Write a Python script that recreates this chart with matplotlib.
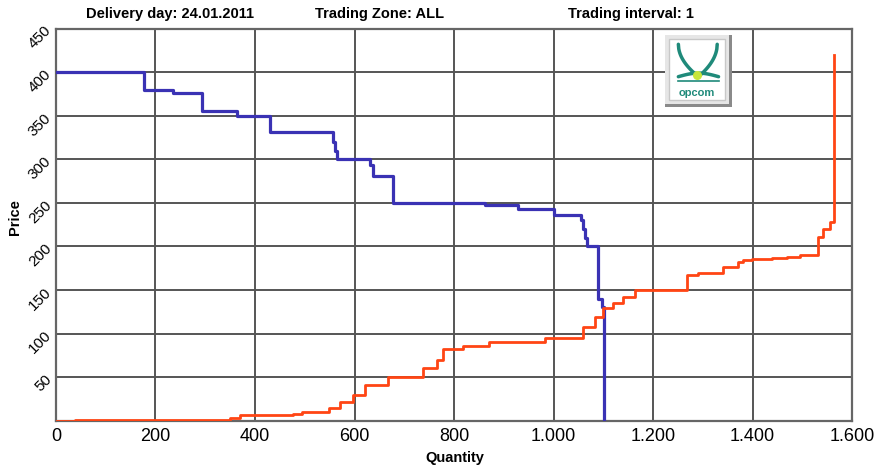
import matplotlib
matplotlib.use("Agg")
import matplotlib.pyplot as plt
import numpy as np
from matplotlib.patches import Rectangle

plt.rcParams['font.family'] = ['Liberation Sans', 'DejaVu Sans']

# ---- data ----
demand_q = [0, 176, 236, 293, 364, 430, 557, 561, 565, 632, 637, 677, 862, 929, 1000,
            1056, 1060, 1064, 1067, 1089, 1097, 1101]
demand_p = [400, 380, 376, 355, 350, 331, 320, 310, 300, 294, 281, 250, 247, 243, 236,
            230, 220, 210, 201, 140, 130, 0]

supply_q = [0, 38, 350, 370, 477, 494, 548, 571, 596, 621, 668, 737, 766, 778, 819, 871,
            983, 1060, 1083, 1100, 1119, 1140, 1164, 1268, 1291, 1341, 1370, 1380, 1398,
            1440, 1470, 1495, 1532, 1542, 1556, 1564]
supply_p = [0, 1, 3, 6, 8, 10, 14, 22, 30, 41, 50, 61, 70, 82, 86, 90,
            95, 108, 119, 129, 135, 142, 150, 167, 170, 176, 182, 184, 186,
            187, 188, 190, 211, 220, 228, 420]

x_ticks = [0, 200, 400, 600, 800, 1000, 1200, 1400, 1600]
x_tick_labels = ['0', '200', '400', '600', '800', '1.000', '1.200', '1.400', '1.600']
y_ticks = [50, 100, 150, 200, 250, 300, 350, 400, 450]
y_tick_labels = ['50', '100', '150', '200', '250', '300', '350', '400', '450']

titles = ['Delivery day: 24.01.2011', 'Trading Zone: ALL', 'Trading interval: 1']

# ---- figure ----
fig = plt.figure(figsize=(8.79, 4.69), dpi=100)
ax = fig.add_axes([0.0637, 0.103, 0.9056, 0.836])

ax.step(demand_q, demand_p, where='post', color='#3a32b4', lw=2.3, zorder=3)
ax.step(supply_q, supply_p, where='post', color='#ff4514', lw=2.0, zorder=4)

ax.set_xlim(0, 1600)
ax.set_ylim(0, 450)
ax.set_xticks(x_ticks)
ax.set_xticklabels(x_tick_labels, fontsize=13)
ax.set_yticks(y_ticks)
ax.set_yticklabels(y_tick_labels, fontsize=11, rotation=45, va='center', ha='right',
                   rotation_mode='anchor')
ax.tick_params(axis='x', length=0, pad=5)
ax.tick_params(axis='y', length=0, pad=5)
ax.grid(True, color='#555555', lw=1.4)
for s in ax.spines.values():
    s.set_color('#666666')
    s.set_linewidth(1.6)

fig.text(0.5176, 0.008, 'Quantity', fontsize=10.5, fontweight='bold', ha='center', va='bottom')
fig.text(0.009, 0.537, 'Price', fontsize=10.5, fontweight='bold', rotation=90, ha='left', va='center')

fig.text(0.193, 0.97, titles[0], fontsize=10.5, fontweight='bold', ha='center', va='center')
fig.text(0.432, 0.97, titles[1], fontsize=10.5, fontweight='bold', ha='center', va='center')
fig.text(0.718, 0.97, titles[2], fontsize=10.5, fontweight='bold', ha='center', va='center')

# ---- logo ----
lax = fig.add_axes([0.7565, 0.772, 0.0762, 0.1535], zorder=5)
lax.set_xlim(0, 1)
lax.set_ylim(0, 1)
lax.axis('off')
lax.add_patch(Rectangle((0, 0), 1, 1, facecolor='#8a8a8a', edgecolor='none'))
lax.add_patch(Rectangle((0.0, 0.04), 0.95, 0.96, facecolor='#e6e6e6', edgecolor='none'))
lax.add_patch(Rectangle((0.06, 0.1), 0.84, 0.84, facecolor='white', edgecolor='#c8c8c8', lw=1))
t = np.linspace(0, 1, 50)
teal = '#1f8a7a'
lax.plot(0.2 + 0.3 * t, 0.87 - 0.45 * np.sqrt(t), color=teal, lw=2.5, solid_capstyle='round')
lax.plot(0.78 - 0.28 * t, 0.87 - 0.45 * np.sqrt(t), color=teal, lw=2.5, solid_capstyle='round')
lax.plot(0.2 + 0.6 * t, 0.42 + 0.05 * np.sin(np.pi * t), color=teal, lw=2.5, solid_capstyle='round')
lax.plot(0.2 + 0.6 * t, 0.36 + 0 * t, color=teal, lw=1.2)
lax.scatter([0.48], [0.45], s=30, color='#c8e63c', zorder=6)
lax.text(0.48, 0.2, 'opcom', color=teal, fontsize=8, fontweight='bold', ha='center', va='center')

fig.savefig('out.png', dpi=100)
